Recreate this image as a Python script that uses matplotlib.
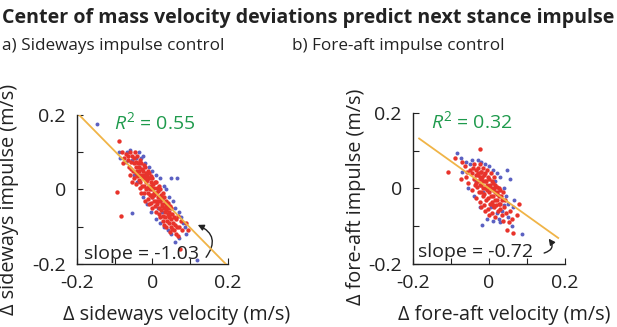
import numpy as np
import matplotlib
matplotlib.use("Agg")
import matplotlib.pyplot as plt

plt.rcParams['font.family'] = ['Open Sans', 'DejaVu Sans']
plt.rcParams['mathtext.fontset'] = 'custom'
plt.rcParams['mathtext.it'] = 'Open Sans:italic'
plt.rcParams['mathtext.rm'] = 'Open Sans'

# Panel a: sideways (velocity, impulse) points
side_red = [
    (-0.08, 0.10), (-0.075, 0.085), (-0.07, 0.095), (-0.078, 0.07), (-0.083, -0.07), (-0.093, -0.008), (-0.09, 0.13),
    (-0.065, 0.08), (-0.06, 0.10), (-0.062, 0.06), (-0.058, 0.075), (-0.055, 0.09), (-0.06, 0.04), (-0.057, 0.055),
    (-0.05, 0.07), (-0.048, 0.085), (-0.052, 0.05), (-0.045, 0.06), (-0.05, 0.03), (-0.047, 0.10), (-0.043, 0.075), (-0.053, 0.02),
    (-0.04, 0.05), (-0.038, 0.07), (-0.042, 0.035), (-0.036, 0.06), (-0.04, 0.09), (-0.035, 0.04), (-0.043, 0.015), (-0.037, 0.025), (-0.033, 0.08),
    (-0.03, 0.04), (-0.028, 0.055), (-0.032, 0.02), (-0.026, 0.03), (-0.03, 0.07), (-0.025, 0.05), (-0.033, 0.005), (-0.027, 0.01), (-0.022, 0.065), (-0.03, -0.01),
    (-0.02, 0.03), (-0.018, 0.045), (-0.022, 0.01), (-0.016, 0.02), (-0.02, 0.06), (-0.015, 0.035), (-0.023, -0.01), (-0.017, 0.0), (-0.012, 0.05), (-0.02, -0.03),
    (-0.01, 0.01), (-0.008, 0.03), (-0.012, -0.01), (-0.006, 0.0), (-0.01, 0.045), (-0.005, 0.02), (-0.013, -0.025), (-0.007, -0.015), (-0.003, 0.035), (-0.01, -0.04),
    (0.0, 0.0), (0.002, 0.015), (-0.002, -0.02), (0.004, -0.01), (0.0, 0.03), (0.005, 0.005), (-0.003, -0.035), (0.003, -0.03), (0.007, 0.02), (0.0, -0.05),
    (0.01, -0.01), (0.012, 0.005), (0.008, -0.03), (0.014, -0.02), (0.01, 0.02), (0.015, -0.005), (0.007, -0.045), (0.013, -0.04), (0.017, 0.01), (0.01, -0.06),
    (0.02, -0.03), (0.022, -0.015), (0.018, -0.05), (0.024, -0.04), (0.02, 0.0), (0.025, -0.025), (0.017, -0.065), (0.023, -0.055), (0.027, -0.01), (0.02, -0.075),
    (0.03, -0.05), (0.032, -0.035), (0.028, -0.07), (0.034, -0.06), (0.03, -0.02), (0.035, -0.045), (0.027, -0.085), (0.033, -0.075), (0.037, -0.03), (0.03, -0.095),
    (0.04, -0.065), (0.042, -0.05), (0.038, -0.085), (0.044, -0.075), (0.04, -0.035), (0.045, -0.06), (0.037, -0.10), (0.043, -0.09), (0.047, -0.045),
    (0.05, -0.08), (0.052, -0.065), (0.048, -0.10), (0.055, -0.09), (0.05, -0.05), (0.057, -0.075), (0.047, -0.115), (0.053, -0.105),
    (0.06, -0.095), (0.063, -0.08), (0.058, -0.11), (0.065, -0.10), (0.062, -0.12), (0.067, -0.07),
    (0.07, -0.10), (0.072, -0.16), (0.075, -0.085), (0.068, -0.125), (0.078, -0.11), (0.093, -0.11), (0.088, -0.09),
    (-0.045, 0.045), (-0.035, 0.05), (-0.025, 0.04), (-0.015, 0.025), (-0.005, 0.01), (0.005, -0.015), (0.015, -0.03),
    (0.025, -0.045), (0.035, -0.055), (0.045, -0.07), (-0.065, 0.09), (-0.015, 0.005), (0.0, -0.015), (0.02, -0.02),
]
side_blue = [
    (-0.147, 0.177), (-0.09, 0.10), (-0.085, 0.085), (-0.07, 0.075), (-0.068, 0.10), (-0.053, -0.062), (-0.06, 0.105),
    (-0.045, 0.085), (-0.05, 0.04), (-0.035, 0.10), (-0.03, 0.085), (-0.04, 0.02), (-0.025, 0.09), (-0.02, 0.07),
    (-0.01, 0.06), (-0.025, -0.02), (-0.015, -0.04), (0.0, 0.05), (0.01, 0.04), (0.02, 0.03), (0.03, 0.01), (0.035, 0.0),
    (0.045, -0.02), (0.064, 0.03), (0.05, 0.03), (0.055, -0.03), (0.06, -0.05), (0.07, -0.06), (0.075, -0.075), (0.08, -0.09),
    (0.085, -0.10), (0.07, -0.13), (0.05, -0.12), (0.04, -0.11), (0.03, -0.10), (0.02, -0.09), (0.01, -0.08), (-0.005, -0.06),
    (0.06, -0.14), (0.117, -0.19), (0.09, -0.12), (-0.02, 0.04), (0.0, -0.02), (0.015, -0.05), (0.025, -0.06), (0.04, -0.04),
    (-0.035, 0.06), (-0.055, 0.08),
]

# Panel b: fore-aft (velocity, impulse) points
fore_red = [
    (-0.06, 0.03), (-0.058, 0.045), (-0.055, 0.015), (-0.062, 0.06), (-0.05, 0.05),
    (-0.045, 0.04), (-0.04, 0.025), (-0.042, 0.055), (-0.038, 0.01), (-0.035, 0.035), (-0.04, 0.065), (-0.045, -0.005), (-0.033, 0.05),
    (-0.03, 0.02), (-0.028, 0.04), (-0.032, 0.005), (-0.025, 0.03), (-0.03, 0.055), (-0.027, -0.01), (-0.022, 0.045), (-0.033, -0.025), (-0.025, 0.065),
    (-0.02, 0.01), (-0.018, 0.03), (-0.022, -0.01), (-0.015, 0.02), (-0.02, 0.045), (-0.017, -0.02), (-0.012, 0.035), (-0.023, -0.035), (-0.015, 0.055), (-0.02, -0.05),
    (-0.01, 0.0), (-0.008, 0.02), (-0.012, -0.015), (-0.005, 0.01), (-0.01, 0.04), (-0.007, -0.03), (-0.003, 0.03), (-0.013, -0.045), (-0.005, 0.05), (-0.01, -0.06),
    (0.0, -0.01), (0.002, 0.01), (-0.002, -0.025), (0.005, 0.0), (0.0, 0.025), (0.003, -0.04), (0.007, 0.02), (-0.003, -0.055), (0.004, 0.04), (0.0, -0.07),
    (0.01, -0.02), (0.012, 0.0), (0.008, -0.035), (0.015, -0.01), (0.01, 0.015), (0.013, -0.05), (0.017, 0.01), (0.007, -0.065), (0.014, 0.03),
    (0.02, -0.03), (0.022, -0.01), (0.018, -0.045), (0.025, -0.02), (0.02, 0.005), (0.023, -0.06), (0.027, 0.0), (0.017, -0.075),
    (0.03, -0.04), (0.032, -0.02), (0.028, -0.055), (0.035, -0.03), (0.03, -0.005), (0.033, -0.07), (0.037, -0.01),
    (0.04, -0.05), (0.042, -0.03), (0.045, -0.065), (0.038, -0.085), (0.047, -0.11),
    (0.055, -0.06), (0.063, -0.117), (0.074, -0.07), (0.06, -0.08), (0.052, -0.09),
    (-0.108, 0.045), (-0.09, 0.08), (-0.024, 0.104), (-0.07, 0.07), (-0.075, 0.025), (0.08, -0.04),
    (-0.035, 0.015), (-0.025, 0.01), (-0.015, 0.0), (-0.005, -0.005), (0.005, -0.02), (0.015, -0.03), (0.025, -0.04),
    (-0.03, 0.035), (-0.02, 0.025), (-0.01, 0.02), (0.0, 0.005), (0.01, -0.005), (0.02, -0.015), (0.01, -0.045),
]
fore_blue = [
    (-0.084, 0.093), (-0.075, 0.08), (-0.07, 0.045), (-0.06, 0.07), (-0.05, 0.065), (-0.045, 0.075), (-0.055, 0.0),
    (-0.04, -0.02), (-0.03, 0.075), (-0.02, 0.07), (-0.01, 0.065), (0.0, 0.06), (0.01, 0.05), (0.02, 0.04), (0.03, 0.03),
    (0.047, 0.05), (0.055, 0.024), (0.04, 0.0), (0.045, -0.02), (0.063, -0.048), (0.05, -0.04), (0.035, -0.06),
    (0.025, -0.08), (0.01, -0.085), (-0.005, -0.08), (-0.018, -0.096), (0.03, -0.09), (0.087, -0.12), (0.06, -0.10),
    (0.02, -0.065), (-0.025, -0.05), (-0.035, 0.02), (0.015, 0.02), (-0.015, -0.01), (0.005, -0.05), (0.04, -0.045),
    (0.065, -0.03), (0.05, -0.075),
]

# fit lines: slope, x range
side_slope, side_fit_x = -1.03, (-0.2, 0.195)
fore_slope, fore_fit_x = -0.72, (-0.184, 0.182)

RED = '#e8332b'
BLUE = '#5b61c2'
ORANGE = '#f0b447'
GREEN = '#1e9a4c'
INK = '#222222'

fig = plt.figure(figsize=(6.17, 3.27), dpi=100)

fig.text(0.003, 0.975, 'Center of mass velocity deviations predict next stance impulse',
         fontsize=14.1, fontweight='bold', va='top', ha='left', color=INK)
fig.text(0.003, 0.858, 'a) Sideways impulse control', fontsize=12.3, va='center', ha='left', color=INK)
fig.text(0.473, 0.858, 'b) Fore-aft impulse control', fontsize=12.3, va='center', ha='left', color=INK)

panels = [
    dict(rect=[0.1248, 0.1927, 0.2447, 0.4557], red=side_red, blue=side_blue,
         slope=side_slope, fit_x=side_fit_x, r2='0.55', r2_xy=(-0.101, 0.18),
         slope_xy=(-0.181, -0.172), arrow=((0.142, -0.182), (0.12, -0.095), 0.6),
         xlabel='Δ sideways velocity (m/s)', ylabel='Δ sideways impulse (m/s)',
         xlab_pos=(176.5, 315), ylab_pos=(9, 199)),
    dict(rect=[0.6694, 0.1927, 0.2464, 0.4617], red=fore_red, blue=fore_blue,
         slope=fore_slope, fit_x=fore_fit_x, r2='0.32', r2_xy=(-0.153, 0.178),
         slope_xy=(-0.187, -0.168), arrow=((0.145, -0.171), (0.157, -0.133), 0.7),
         xlabel='Δ fore-aft velocity (m/s)', ylabel='Δ fore-aft impulse (m/s)',
         xlab_pos=(504, 315), ylab_pos=(356, 197)),
]

W, H = 617, 327
for p in panels:
    ax = fig.add_axes(p['rect'])
    bx, by = zip(*p['blue'])
    rx, ry = zip(*p['red'])
    ax.scatter(bx, by, s=8, color=BLUE, linewidths=0, zorder=2)
    ax.scatter(rx, ry, s=10, color=RED, linewidths=0, zorder=3)
    fx = np.array(p['fit_x'])
    ax.plot(fx, p['slope'] * fx, color=ORANGE, lw=1.3, zorder=4)

    ax.set_xlim(-0.2, 0.2)
    ax.set_ylim(-0.2, 0.2)
    ax.set_xticks([-0.2, -0.1, 0, 0.1, 0.2])
    ax.set_xticklabels(['-0.2', '', '0', '', '0.2'])
    ax.set_yticks([-0.2, -0.1, 0, 0.1, 0.2])
    ax.set_yticklabels(['-0.2', '', '0', '', '0.2'])
    ax.tick_params(direction='in', length=4, width=0.8, labelsize=14, colors=INK)
    ax.tick_params(axis='x', pad=7)
    ax.tick_params(axis='y', pad=8)
    for side in ['top', 'right']:
        ax.spines[side].set_visible(False)
    for side in ['left', 'bottom']:
        ax.spines[side].set_linewidth(1.0)
        ax.spines[side].set_color(INK)
    ax.set_facecolor('none')

    # axis titles placed where they sit in the picture
    fig.text(p['xlab_pos'][0] / W, 1 - p['xlab_pos'][1] / H, p['xlabel'], fontsize=14.3,
             ha='center', va='center', color=INK)
    fig.text(p['ylab_pos'][0] / W, 1 - p['ylab_pos'][1] / H, p['ylabel'], fontsize=14.3,
             ha='center', va='center', rotation=90, color=INK)

    ax.text(p['r2_xy'][0], p['r2_xy'][1], r'$R^2$ = ' + p['r2'], fontsize=14,
            color=GREEN, va='center', ha='left')
    ax.text(p['slope_xy'][0], p['slope_xy'][1], 'slope = ' + str(p['slope']), fontsize=14,
            color=INK, va='center', ha='left')
    start, end, rad = p['arrow']
    ax.annotate('', xy=end, xytext=start,
                arrowprops=dict(arrowstyle='-|>,head_length=0.35,head_width=0.18',
                                connectionstyle=f'arc3,rad={rad}', color=INK, lw=1.0,
                                shrinkA=0, shrinkB=0))

fig.savefig('out.png', dpi=100)
